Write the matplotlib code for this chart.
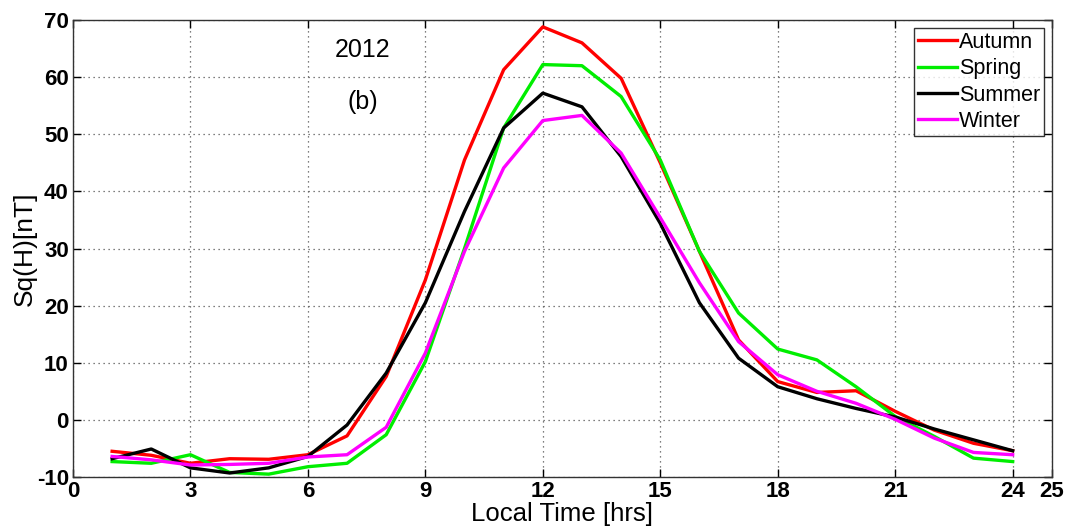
import matplotlib
matplotlib.use("Agg")
import matplotlib.pyplot as plt

plt.rcParams['font.family'] = ['Liberation Sans', 'DejaVu Sans']
plt.rcParams['axes.unicode_minus'] = False

hours = list(range(1, 25))
autumn = [-5.5, -6.2, -7.6, -6.8, -6.9, -6.1, -2.8, 7.6, 24.5, 45.5, 61.3, 68.8,
          66.0, 59.8, 45.0, 29.5, 14.0, 6.7, 4.8, 5.1, 1.5, -1.8, -4.1, -5.4]
spring = [-7.3, -7.6, -6.1, -9.2, -9.5, -8.2, -7.6, -2.6, 10.2, 30.0, 51.1, 62.2,
          62.0, 56.6, 45.5, 29.5, 18.7, 12.4, 10.5, 5.8, 0.6, -2.9, -6.7, -7.3]
summer = [-6.8, -5.1, -8.4, -9.3, -8.4, -6.4, -0.9, 8.2, 20.5, 36.5, 51.1, 57.2,
          54.8, 46.1, 34.4, 20.5, 10.8, 5.8, 3.7, 2.0, 0.5, -1.6, -3.5, -5.4]
winter = [-6.4, -7.0, -7.9, -7.8, -7.6, -6.5, -6.1, -1.3, 11.7, 29.5, 44.1, 52.4,
          53.3, 46.7, 35.4, 24.0, 13.7, 7.9, 5.0, 2.9, 0.1, -3.2, -5.7, -6.1]

series = [("Autumn", autumn, "#ff0000"),
          ("Spring", spring, "#00ee00"),
          ("Summer", summer, "#000000"),
          ("Winter", winter, "#ff00ff")]

xticks = [0, 3, 6, 9, 12, 15, 18, 21, 24, 25]
yticks = list(range(-10, 71, 10))

fig = plt.figure(figsize=(10.70, 5.28), dpi=100)
ax = fig.add_axes([0.0682, 0.0966, 0.9148, 0.8655])

for name, vals, col in series:
    ax.plot(hours, vals, color=col, lw=2.4, label=name)

ax.set_xlim(0, 25)
ax.set_ylim(-10, 70)
ax.set_xticks(xticks)
ax.set_yticks(yticks)
ax.tick_params(direction='in', top=True, right=True, labelsize=16, length=6, width=1, pad=3)
for lab in ax.get_xticklabels() + ax.get_yticklabels():
    lab.set_fontweight('bold')
ax.grid(True, linestyle=(0, (1, 3)), color='#555555', linewidth=0.9)
for sp in ax.spines.values():
    sp.set_linewidth(1.0)
    sp.set_color('#333333')

ax.set_xlabel("Local Time [hrs]", fontsize=18.5, labelpad=0)
ax.set_ylabel("Sq(H)[nT]", fontsize=19, labelpad=0)

ax.text(7.4, 64.8, "2012", fontsize=18, ha='center', va='center')
ax.text(7.4, 55.6, "(b)", fontsize=18, ha='center', va='center')

leg = ax.legend(loc='upper right', fontsize=15.5, frameon=True, fancybox=False,
                edgecolor='black', handlelength=1.8, handletextpad=0.1,
                borderpad=0.2, labelspacing=0.25, borderaxespad=0.35)
leg.get_frame().set_linewidth(1.0)

fig.savefig("out.png", dpi=100)
